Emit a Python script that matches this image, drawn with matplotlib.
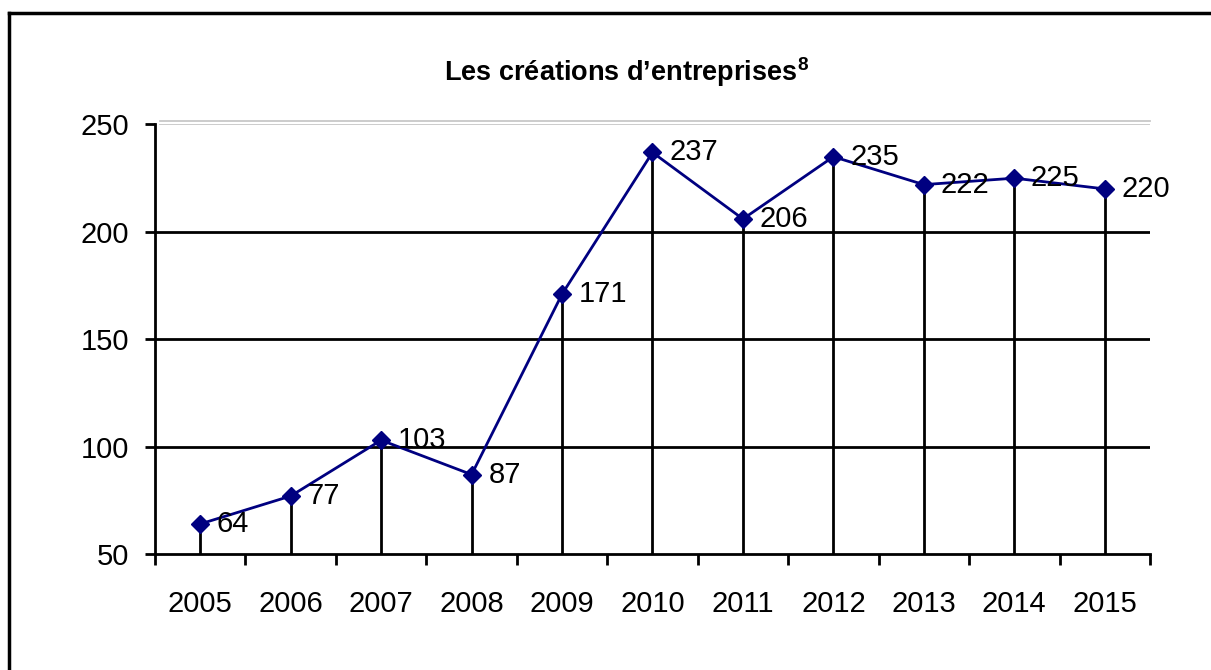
import matplotlib.pyplot as plt
from matplotlib.lines import Line2D
from matplotlib.transforms import offset_copy

years = ['2005', '2006', '2007', '2008', '2009', '2010', '2011', '2012', '2013', '2014', '2015']
creations = [64, 77, 103, 87, 171, 237, 206, 235, 222, 225, 220]
yticks = [50, 100, 150, 200, 250]

plt.rcParams['font.family'] = ['Liberation Sans', 'DejaVu Sans']
plt.rcParams['mathtext.fontset'] = 'custom'
plt.rcParams['mathtext.bf'] = 'Liberation Sans:bold'
plt.rcParams['mathtext.rm'] = 'Liberation Sans'

fig = plt.figure(figsize=(12.11, 6.70), dpi=100)
ax = fig.add_axes([0.128, 0.1731, 0.8216, 0.6411])

x = list(range(len(years)))

# grid lines (black) and double gray line on top
for v in yticks[1:-1]:
    ax.axhline(v, color='black', lw=2, zorder=1)
ax.axhline(250, xmin=0.005, color='#c8c8c8', lw=1.3, zorder=1)
top2 = Line2D([0.005, 1], [250, 250], color='#c8c8c8', lw=1.3, clip_on=False,
              transform=offset_copy(ax.get_yaxis_transform(), fig, y=3, units='dots'))
ax.add_line(top2)

# drop lines from each point down to the axis
ax.vlines(x, 50, creations, color='black', lw=2, zorder=2)

ax.plot(x, creations, color='#000080', lw=2, marker='D', markersize=9.5,
        markerfacecolor='#000080', markeredgecolor='#000080', zorder=3)

for xi, v in zip(x, creations):
    ax.annotate(str(v), (xi, v), xytext=(12, 0), textcoords='offset points',
                ha='left', va='center', fontsize=21, zorder=4)

ax.set_xlim(-0.5, len(years) - 0.5)
ax.set_ylim(50, 250)
ax.set_yticks(yticks)
ax.set_yticklabels([str(t) for t in yticks], fontsize=21)
ax.set_xticks(x)
ax.set_xticklabels(years, fontsize=21)
ax.set_xticks([i - 0.5 for i in range(len(years) + 1)], minor=True)
ax.tick_params(axis='x', which='major', length=0, pad=26)
ax.tick_params(axis='x', which='minor', length=8, width=2, direction='out')
ax.tick_params(axis='y', length=7.5, width=2, direction='out', pad=11)

for s in ['top', 'right']:
    ax.spines[s].set_visible(False)
ax.spines['left'].set_linewidth(2)
ax.spines['bottom'].set_linewidth(2)

fig.text(0.517, 0.892, 'Les créations d\u2019entreprises$^{\\mathbf{8}}$', ha='center', va='center',
         fontsize=19.5, fontweight='bold')

# frame around the figure (top and left edges visible)
fig.add_artist(Line2D([9 / 1211, 1], [1 - 13 / 670, 1 - 13 / 670], color='black', lw=2.5))
fig.add_artist(Line2D([9 / 1211, 9 / 1211], [0, 1 - 13 / 670], color='black', lw=2.5))

fig.savefig('out.png', dpi=100)
